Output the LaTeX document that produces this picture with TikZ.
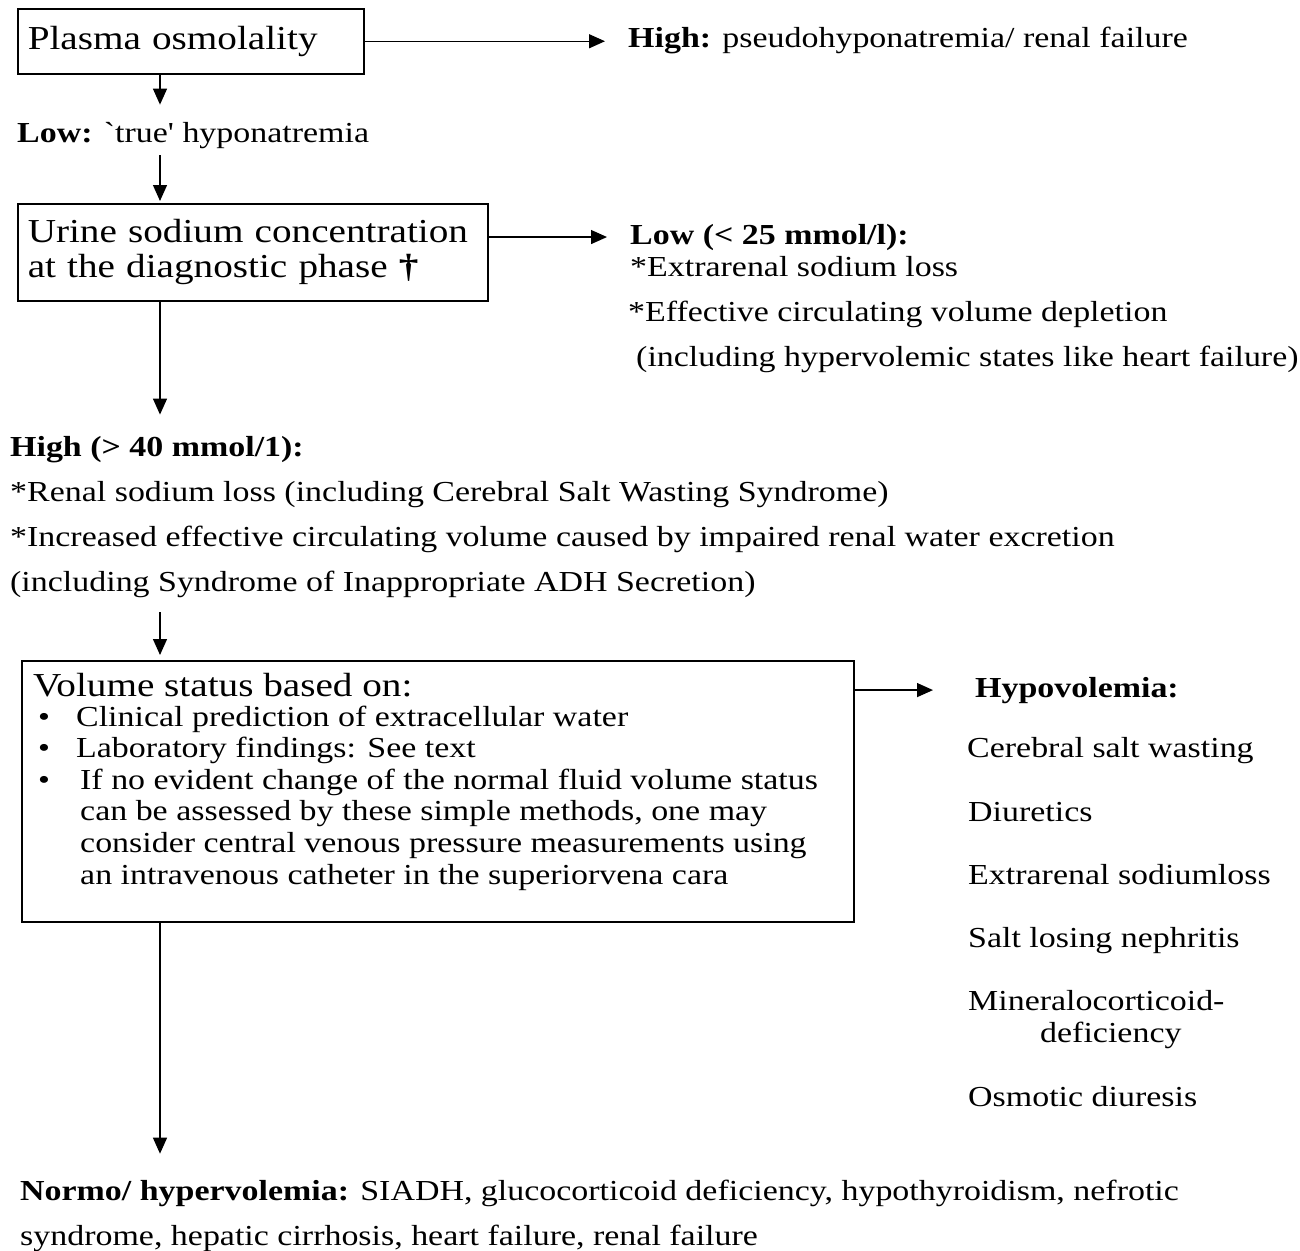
\documentclass[tikz,border=0pt]{standalone}
\usepackage{fontspec}
\setmainfont{Liberation Serif}[FakeStretch=1.17]
\newfontfamily\rawfnt{Liberation Serif}[FakeStretch=1.17]
\usetikzlibrary{arrows.meta}

\newcommand\boxfnt{\fontsize{33.5}{35}\selectfont}
\newcommand\bodyfnt{\fontsize{29}{44.7}\selectfont}
\newcommand\listfnt{\fontsize{29}{31.6}\selectfont}

\tikzset{
  box/.style={draw, line width=1.5pt, inner xsep=10pt, align=left, font=\boxfnt},
  txt/.style={anchor=base west, inner sep=0pt, align=left, font=\bodyfnt},
  arr/.style={line width=1.3pt, -{Triangle[length=16pt,width=14pt]}},
}

\begin{document}
\begin{tikzpicture}[x=1pt,y=-1pt]
\useasboundingbox (0,0) rectangle (1300,1250);
\coordinate (trunk) at (160,0);

% boxes
\node[box, text width=326pt, minimum height=65pt, anchor=north west] (plasma) at (17,8) {Plasma osmolality};
\node[box, text width=450pt, minimum height=97pt, anchor=north west] (urine) at (17,203) {Urine sodium concentration\\at the diagnostic phase \textbf{†}};
\node[draw, line width=1.5pt, inner sep=0pt, minimum width=832pt, minimum height=261pt, anchor=north west] (volume) at (21,660) {};
\node[txt, font=\boxfnt] (vhead) at (33,696) {Volume status based on:};
% multi-line nodes sit on the baseline of their last line
\node[txt, font=\listfnt] (vlist) at (38,884) {\makebox[38pt][l]{•}Clinical prediction of extracellular water\\
\makebox[38pt][l]{•}Laboratory findings: See text\\
\makebox[42pt][l]{•}If no evident change of the normal fluid volume status\\
\hspace*{42pt}can be assessed by these simple methods, one may\\
\hspace*{42pt}consider central venous pressure measurements using\\
\hspace*{42pt}an intravenous catheter in the superiorvena cara};

% labels
\node[txt] (high) at (628,47) {\textbf{High:} pseudohyponatremia/ renal failure};
\node[txt] (low) at (17,142) {\textbf{Low:} {\rawfnt `true'} hyponatremia};
\node[txt] (lowna) at (630,244) {\textbf{Low (< 25 mmol/l):}};
\node[txt] (lowlist) at (628,366) {\hspace*{2pt}*Extrarenal sodium loss\\
*Effective circulating volume depletion\\
\hspace*{8pt}(including hypervolemic states like heart failure)};
\node[txt] (highna) at (10,591) {\textbf{High (> 40 mmol/1):}\\
*Renal sodium loss (including Cerebral Salt Wasting Syndrome)\\
*Increased effective circulating volume caused by impaired renal water excretion\\
(including Syndrome of Inappropriate ADH Secretion)};

% hypovolemia list
\node[txt] (hypo) at (975,697) {\textbf{Hypovolemia:}};
\node[txt] (csw) at (967,757) {Cerebral salt wasting};
\node[txt] (diur) at (968,821) {Diuretics};
\node[txt] (extra) at (968,884) {Extrarenal sodiumloss};
\node[txt] (salt) at (968,947) {Salt losing nephritis};
\node[txt] (miner) at (968,1010) {Mineralocorticoid-};
\node[txt] (defic) at (1040,1042) {deficiency};
\node[txt] (osmo) at (968,1106) {Osmotic diuresis};

\node[txt] (normo) at (20,1245) {\textbf{Normo/ hypervolemia:} SIADH, glucocorticoid deficiency, hypothyroidism, nefrotic\\
syndrome, hepatic cirrhosis, heart failure, renal failure};

% arrows
\draw[arr, shorten >=23pt] (plasma.east) -- (plasma.east -| high.west);
\draw[arr, shorten >=17pt] (plasma.south -| trunk) -- (low.north -| trunk);
\draw[arr, shorten <=7pt, shorten >=2pt] (low.south -| trunk) -- (urine.north -| trunk);
\draw[arr, shorten >=23pt] (urine.east |- lowna.west) -- (lowna.west);
\draw[arr, shorten >=22pt] (urine.south -| trunk) -- (highna.north -| trunk);
\draw[arr, shorten <=15pt, shorten >=5pt] (highna.south -| trunk) -- (volume.north -| trunk);
\draw[arr, shorten >=42pt] (volume.east |- hypo.west) -- (hypo.west);
\draw[arr, shorten >=26pt] (volume.south -| trunk) -- (normo.north -| trunk);
\end{tikzpicture}
\end{document}
